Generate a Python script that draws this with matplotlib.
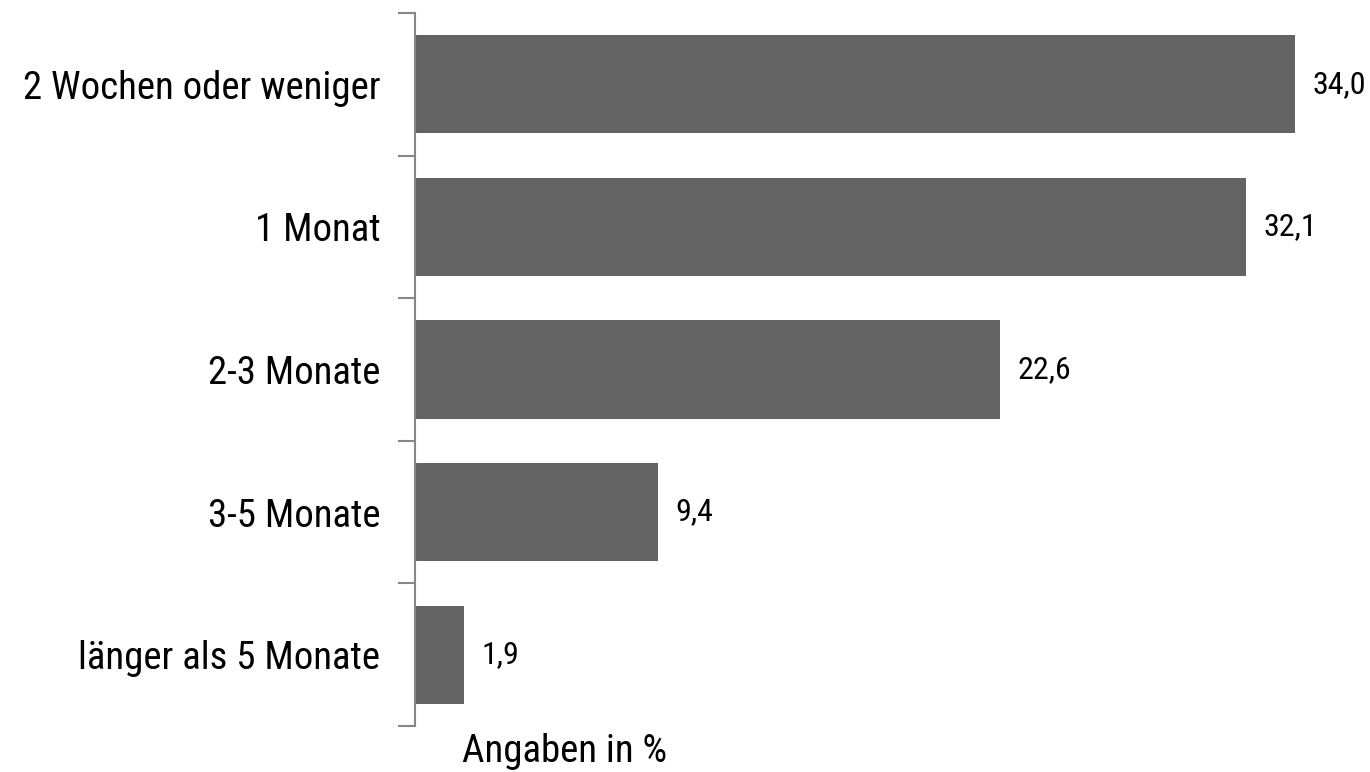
import matplotlib.pyplot as plt
from matplotlib import font_manager

categories = ["2 Wochen oder weniger", "1 Monat", "2-3 Monate", "3-5 Monate", "länger als 5 Monate"]
values = [34.0, 32.1, 22.6, 9.4, 1.9]
value_labels = ["34,0", "32,1", "22,6", "9,4", "1,9"]

names = {f.name for f in font_manager.fontManager.ttflist}
fam = "Roboto Condensed" if "Roboto Condensed" in names else "Liberation Sans"
plt.rcParams["font.family"] = [fam, "DejaVu Sans"]

fig = plt.figure(figsize=(13.7, 7.72), dpi=100)
ax = fig.add_axes([415 / 1370, 1 - 726 / 772, 932 / 1370, 713 / 772])

y = list(range(len(categories)))
ax.barh(y, values, height=0.69, color="#636363")
ax.set_ylim(len(categories) - 0.5, -0.5)
ax.set_xlim(0, 36)

# category separators as major ticks, labels on minor ticks
ax.set_yticks([i - 0.5 for i in range(len(categories) + 1)])
ax.set_yticklabels([])
ax.set_yticks(y, minor=True)
ax.set_yticklabels(categories, minor=True, fontsize=28)
ax.tick_params(axis="y", which="major", length=12, width=1.5, color="#878787")
ax.tick_params(axis="y", which="minor", length=0, pad=25)
ax.set_xticks([])

for s in ["top", "right", "bottom"]:
    ax.spines[s].set_visible(False)
ax.spines["left"].set_color("#878787")
ax.spines["left"].set_linewidth(1.5)

for i, (v, lab) in enumerate(zip(values, value_labels)):
    ax.annotate(lab, (v, i), xytext=(17, 0), textcoords="offset pixels",
                va="center", ha="left", fontsize=23)

fig.text(565 / 1370, 1 - 752 / 772, "Angaben in %", ha="center", va="center", fontsize=28)

fig.savefig("out.png", dpi=100)
